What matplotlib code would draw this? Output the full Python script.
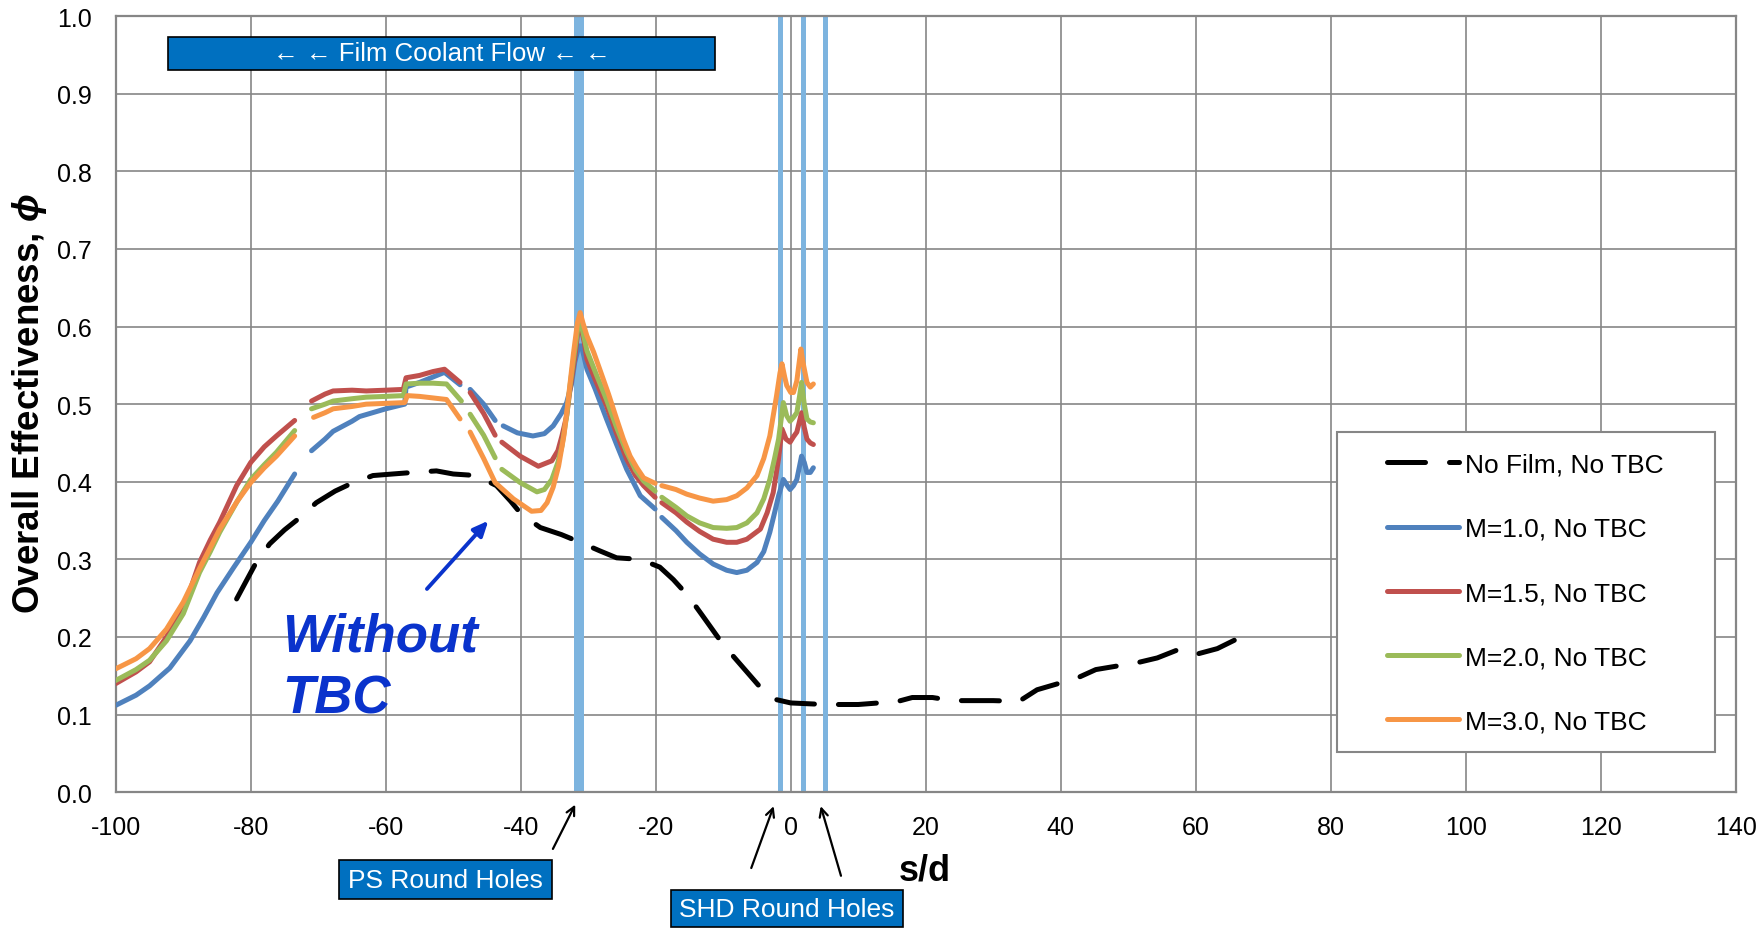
import numpy as np
import matplotlib
matplotlib.use("Agg")
import matplotlib.pyplot as plt
from matplotlib.patches import Rectangle

plt.rcParams['font.family'] = ['Liberation Sans', 'DejaVu Sans']
plt.rcParams['axes.unicode_minus'] = False
plt.rcParams['mathtext.fontset'] = 'custom'
plt.rcParams['mathtext.it'] = 'Liberation Sans:italic:bold'
plt.rcParams['mathtext.rm'] = 'Liberation Sans:bold'

nan = np.nan

# ---- data ----
x_m10 = [-100, -97, -95, -92, -89, -87, -85, -82.5, -80, -78, -76, -73.5, nan,
         -71, -69, -67.8, -65, -63.9, -60, -57.2, -57, -55, -53, -51.3, -49, nan,
         -47.5, -45.5, -43.8, nan,
         -42.6, -40.5, -38.2, -36.5, -35.2, -34, -33.2, -32.5, -32, -31.4, -31, -30.2,
         -29, -27.3, -25.8, -24.3, -22.3, -20.1, nan,
         -19.1, -17, -15.4, -13.5, -11.5, -9.5, -8, -6.5, -5, -4, -3.1, -2.4, -1.8,
         -1.1, -0.5, -0.1, 0.4, 0.9, 1.3, 1.6, 2.0, 2.4, 2.9, 3.35]
y_m10 = [0.112, 0.125, 0.137, 0.16, 0.195, 0.225, 0.257, 0.29, 0.322, 0.35, 0.375, 0.41, nan,
         0.44, 0.455, 0.465, 0.478, 0.484, 0.494, 0.5, 0.522, 0.528, 0.535, 0.541, 0.525, nan,
         0.519, 0.5, 0.479, nan,
         0.472, 0.463, 0.459, 0.462, 0.472, 0.488, 0.502, 0.525, 0.554, 0.575, 0.575, 0.545,
         0.52, 0.481, 0.448, 0.416, 0.382, 0.365, nan,
         0.354, 0.337, 0.322, 0.307, 0.294, 0.286, 0.283, 0.286, 0.296, 0.31, 0.335, 0.36, 0.382,
         0.403, 0.395, 0.39, 0.395, 0.403, 0.42, 0.433, 0.425, 0.412, 0.412, 0.418]

x_m15 = [-100, -97, -95, -92.5, -90, -87.6, -86, -84.6, -82.1, -80, -78, -76.2, -73.5, nan,
         -71, -69, -67.8, -65, -62.9, -60, -57.4, -57, -55, -53, -51.3, -49, nan,
         -47.5, -45.5, -43.8, nan,
         -42.8, -40.1, -37.4, -35.4, -34.5, -33.9, -33.2, -32.7, -32, -31.5, -31.1, -30.6,
         -30.2, -28.8, -27.3, -25.8, -24.3, -23, -21.8, -20.1, nan,
         -19.1, -17, -15.4, -13.5, -11.5, -9.5, -8, -6.5, -4.5, -3.5, -2.6, -1.8, -1.3,
         -0.7, -0.1, 0.4, 0.9, 1.3, 1.6, 2.0, 2.4, 2.9, 3.35]
y_m15 = [0.14, 0.155, 0.168, 0.2, 0.235, 0.296, 0.325, 0.348, 0.395, 0.425, 0.445, 0.459, 0.479, nan,
         0.504, 0.513, 0.517, 0.518, 0.517, 0.518, 0.519, 0.534, 0.537, 0.542, 0.545, 0.528, nan,
         0.515, 0.488, 0.46, nan,
         0.451, 0.433, 0.42, 0.427, 0.44, 0.459, 0.485, 0.519, 0.56, 0.597, 0.6, 0.58,
         0.558, 0.528, 0.498, 0.462, 0.429, 0.408, 0.395, 0.38, nan,
         0.373, 0.36, 0.348, 0.336, 0.326, 0.322, 0.322, 0.326, 0.339, 0.36, 0.386, 0.43, 0.468,
         0.455, 0.451, 0.458, 0.464, 0.478, 0.489, 0.47, 0.455, 0.45, 0.448]

x_m20 = [-100, -97, -95, -92.5, -90, -87.6, -86, -84.6, -82, -80, -78, -76.2, -73.5, nan,
         -71, -69, -67.8, -65, -62.9, -60, -57.4, -57, -55, -53, -51, -48.8, nan,
         -47.5, -45.5, -43.8, nan,
         -42.8, -40.1, -37.6, -36.5, -35.4, -34.5, -33.9, -33.2, -32.7, -32, -31.5, -31.1,
         -30.6, -30.2, -28.8, -27.3, -25.8, -24.3, -23, -21.8, -20.1, nan,
         -19.1, -17, -15.4, -13.5, -11.5, -9.5, -8, -6.5, -5, -4, -3.1, -2.4, -1.8, -1.1,
         -0.6, -0.1, 0.4, 0.9, 1.3, 1.6, 2.0, 2.4, 2.9, 3.35]
y_m20 = [0.144, 0.158, 0.17, 0.195, 0.23, 0.283, 0.31, 0.335, 0.375, 0.403, 0.422, 0.438, 0.466, nan,
         0.494, 0.5, 0.504, 0.507, 0.509, 0.51, 0.511, 0.526, 0.527, 0.527, 0.526, 0.504, nan,
         0.487, 0.46, 0.431, nan,
         0.416, 0.399, 0.387, 0.39, 0.403, 0.425, 0.446, 0.485, 0.524, 0.57, 0.601, 0.605,
         0.585, 0.569, 0.538, 0.506, 0.47, 0.438, 0.415, 0.401, 0.388, nan,
         0.38, 0.367, 0.356, 0.347, 0.341, 0.34, 0.341, 0.347, 0.36, 0.378, 0.403, 0.43, 0.455, 0.502,
         0.485, 0.478, 0.483, 0.489, 0.51, 0.528, 0.5, 0.481, 0.477, 0.476]

x_m30 = [-100, -97, -95, -92.5, -90, -87.6, -86, -84.6, -82, -80, -78, -76.2, -73.5, nan,
         -70.7, -69, -67.8, -65, -62.9, -60, -57.2, -56.8, -55, -53, -51, -49, nan,
         -47.5, -45.5, -43.8, -41.1, -38.4, -37, -36.1, -35.2, -34.4, -33.6, -32.9, -32.2,
         -31.6, -31.2, -30.8, -30.2, -29.2, -28.3, -27, -25.8, -24.8, -23.8, -22.8, -21.8, -20.1, nan,
         -19.1, -17, -15.4, -13.5, -11.5, -9.5, -8, -6.5, -5, -4, -3.1, -2.1, -1.6, -1.3,
         -0.9, -0.6, 0.0, 0.4, 0.9, 1.5, 1.9, 2.4, 2.9, 3.35]
y_m30 = [0.159, 0.172, 0.185, 0.21, 0.245, 0.288, 0.315, 0.339, 0.375, 0.399, 0.418, 0.433, 0.459, nan,
         0.483, 0.489, 0.494, 0.497, 0.5, 0.501, 0.502, 0.511, 0.51, 0.508, 0.506, 0.481, nan,
         0.464, 0.43, 0.399, 0.378, 0.362, 0.363, 0.373, 0.393, 0.42, 0.46, 0.511, 0.565,
         0.605, 0.618, 0.605, 0.588, 0.567, 0.545, 0.513, 0.481, 0.455, 0.433, 0.418, 0.405, 0.398, nan,
         0.395, 0.39, 0.384, 0.379, 0.375, 0.377, 0.382, 0.392, 0.408, 0.43, 0.459, 0.511, 0.54, 0.552,
         0.535, 0.524, 0.515, 0.515, 0.53, 0.571, 0.55, 0.528, 0.522, 0.526]

x_nofilm = [-82.1, -80.5, -79.2, -77.2, -75, -72.7, -70.3, -67.5, -65.3, -61.9, -59, -56, -52.5,
            -50, -46.6, -43.6, -41.5, -39.9, -37.1, -34, -31.2, -28.3, -25.8, -22.3, -19.4,
            -17.4, -15.2, -13.2, -10, -7, -4.5, -2.5, 0, 5, 10, 13, 15, 18, 21, 24, 30, 33.8,
            36.5, 42.4, 45.2, 51.4, 54.3, 57.5, 59.5, 60.2, 63.2, 66]
y_nofilm = [0.249, 0.275, 0.296, 0.32, 0.338, 0.354, 0.373, 0.388, 0.397, 0.408, 0.41, 0.412, 0.414,
            0.41, 0.408, 0.395, 0.375, 0.358, 0.341, 0.332, 0.322, 0.311, 0.302, 0.3, 0.29,
            0.274, 0.253, 0.229, 0.19, 0.16, 0.135, 0.12, 0.115, 0.113, 0.113, 0.115, 0.115, 0.122,
            0.122, 0.118, 0.118, 0.117, 0.132, 0.147, 0.158, 0.167, 0.173, 0.184, 0.178, 0.178,
            0.185, 0.197]

ps_hole = -31.4
shd_holes = [-1.6, 1.75, 5.0]

# ---- figure ----
fig = plt.figure(figsize=(17.58, 9.29), dpi=100)
ax = fig.add_axes([0.06587, 0.14618, 0.92144, 0.83541])

grey = '#868686'
hole_blue = '#7DB4DF'

ax.axvline(ps_hole, color=hole_blue, lw=7.2, zorder=1)
for h in shd_holes:
    ax.axvline(h, color=hole_blue, lw=3.6, zorder=1)

ax.plot(x_nofilm, y_nofilm, color='black', lw=3.6, linestyle=(0, (7.6, 4.8)),
        dash_capstyle='round', label='No Film, No TBC', zorder=3)
ax.plot(x_m10, y_m10, color='#4F81BD', lw=3.6, solid_capstyle='round', label='M=1.0, No TBC', zorder=3)
ax.plot(x_m15, y_m15, color='#C0504D', lw=3.6, solid_capstyle='round', label='M=1.5, No TBC', zorder=3)
ax.plot(x_m20, y_m20, color='#9BBB59', lw=3.6, solid_capstyle='round', label='M=2.0, No TBC', zorder=3)
ax.plot(x_m30, y_m30, color='#F79646', lw=3.6, solid_capstyle='round', label='M=3.0, No TBC', zorder=3)

ax.set_xlim(-100, 140)
ax.set_ylim(0, 1.0)
ax.set_xticks(np.arange(-100, 141, 20))
ax.set_yticks(np.arange(0, 1.01, 0.1))
ax.set_yticklabels([f"{v:.1f}" for v in np.arange(0, 1.01, 0.1)])
ax.tick_params(axis='x', length=0, pad=16.5, labelsize=18)
ax.tick_params(axis='y', length=0, pad=17, labelsize=18)
ax.set_axisbelow(True)
ax.grid(True, color=grey, lw=1.2)
for s in ax.spines.values():
    s.set_color(grey)
    s.set_linewidth(1.6)

ax.set_ylabel(r'Overall Effectiveness, $\phi$', fontsize=26.5, fontweight='bold', va='center')
ax.yaxis.set_label_coords(-0.053, 0.5015)
ax.text(19.9, -0.1, 's/d', fontsize=26, fontweight='bold', ha='center', va='center', clip_on=False)

# legend with a hand-placed frame
ax.add_patch(Rectangle((80.93, 0.0514), 55.97, 0.4131, facecolor='white', edgecolor=grey,
                       lw=1.5, zorder=4))
leg = ax.legend(loc='upper left', bbox_to_anchor=(0.7846, 0.4374), frameon=False, fontsize=19,
                borderpad=0, borderaxespad=0, handlelength=2.72, handletextpad=0.25,
                labelspacing=1.525)
leg.set_zorder(5)

# film coolant flow box
ax.add_patch(Rectangle((-92.25, 0.9311), 81.04, 0.042, facecolor='#0070C0', edgecolor='black',
                       lw=1.2, zorder=4))
ax.text(-51.7, 0.952, '← ← Film Coolant Flow ← ←', color='white', fontsize=18.5,
        ha='center', va='center', zorder=5)

# hole labels below the axis
ax.add_patch(Rectangle((-66.98, -0.1376), 31.56, 0.0502, facecolor='#0070C0', edgecolor='black',
                       lw=1.2, zorder=4, clip_on=False))
ax.text(-51.2, -0.1125, 'PS Round Holes', color='white', fontsize=19, ha='center', va='center',
        zorder=5, clip_on=False)
ax.add_patch(Rectangle((-17.81, -0.1742), 34.39, 0.0478, facecolor='#0070C0', edgecolor='black',
                       lw=1.2, zorder=4, clip_on=False))
ax.text(-0.6, -0.1503, 'SHD Round Holes', color='white', fontsize=19, ha='center', va='center',
        zorder=5, clip_on=False)

arrow_kw = dict(arrowstyle='->,head_length=0.6,head_width=0.3', color='black', lw=1.6,
                shrinkA=0, shrinkB=0)
ax.annotate('', xy=(-31.93, -0.016), xytext=(-35.24, -0.0731), arrowprops=arrow_kw,
            annotation_clip=False)
ax.annotate('', xy=(-2.53, -0.018), xytext=(-5.85, -0.0977), arrowprops=arrow_kw,
            annotation_clip=False)
ax.annotate('', xy=(4.44, -0.018), xytext=(7.44, -0.1077), arrowprops=arrow_kw,
            annotation_clip=False)

# "Without TBC" callout
tbc_blue = '#0A33CC'
ax.text(-75.4, 0.1823, 'Without', color=tbc_blue, fontsize=38, fontweight='bold',
        style='italic', va='baseline', ha='left')
ax.text(-75.3, 0.103, 'TBC', color=tbc_blue, fontsize=38, fontweight='bold',
        style='italic', va='baseline', ha='left')
ax.annotate('', xy=(-44.8, 0.3498), xytext=(-53.9, 0.2619),
            arrowprops=dict(arrowstyle='-|>,head_length=0.9,head_width=0.4', color=tbc_blue,
                            lw=2.8, shrinkA=0, shrinkB=0))

fig.savefig('out.png', dpi=100)
